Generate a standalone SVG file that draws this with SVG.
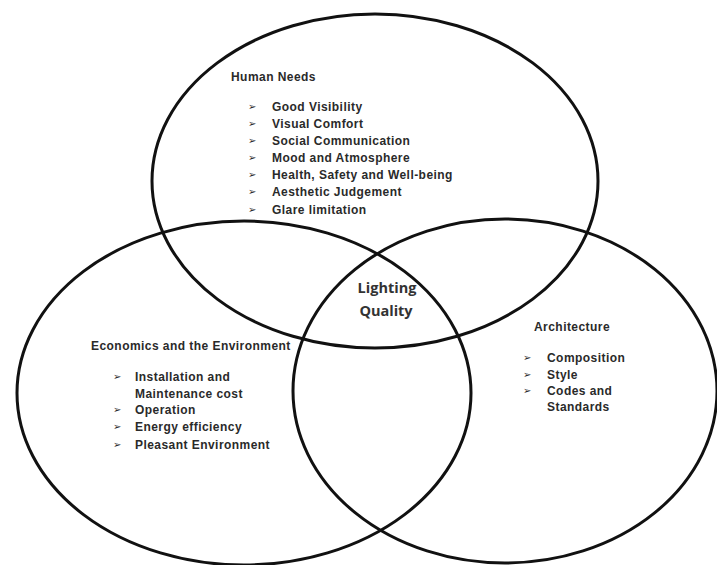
<svg xmlns="http://www.w3.org/2000/svg" width="717" height="565" viewBox="0 0 717 565">
<style>
.c{fill:none;stroke:#111;stroke-width:3}
.t{font-family:"Liberation Sans",Arial,sans-serif;font-size:12px;letter-spacing:0.45px;font-weight:bold;fill:#2a2a2a}
.b{font-family:"DejaVu Sans",sans-serif;font-size:10px;font-weight:bold;fill:#2a2a2a}
.q{font-family:"Open Sans","Liberation Sans",sans-serif;font-size:14.5px;font-weight:bold;fill:#333}
</style>
<rect width="717" height="565" fill="#fff"/>
<g id="human-needs">
<ellipse class="c" cx="375" cy="181" rx="223" ry="167" stroke-width="3.5"/>
<text class="t" x="231" y="81">Human Needs</text>
<g class="b"><text x="248" y="110">➢</text><text x="248" y="127">➢</text><text x="248" y="144">➢</text><text x="248" y="161">➢</text><text x="248" y="178">➢</text><text x="248" y="195">➢</text><text x="248" y="213">➢</text></g>
<text class="t" x="272" y="111">Good Visibility</text>
<text class="t" x="272" y="128">Visual Comfort</text>
<text class="t" x="272" y="145">Social Communication</text>
<text class="t" x="272" y="162">Mood and Atmosphere</text>
<text class="t" x="272" y="179">Health, Safety and Well-being</text>
<text class="t" x="272" y="196">Aesthetic Judgement</text>
<text class="t" x="272" y="214">Glare limitation</text>
</g>
<g id="economics">
<ellipse class="c" cx="244" cy="393" rx="227" ry="172"/>
<text class="t" x="91" y="350">Economics and the Environment</text>
<g class="b"><text x="113" y="380">➢</text><text x="113" y="413">➢</text><text x="113" y="430">➢</text><text x="113" y="448">➢</text></g>
<text class="t" x="135" y="381">Installation and</text>
<text class="t" x="135" y="398">Maintenance cost</text>
<text class="t" x="135" y="414">Operation</text>
<text class="t" x="135" y="431">Energy efficiency</text>
<text class="t" x="135" y="449">Pleasant Environment</text>
</g>
<g id="architecture">
<ellipse class="c" cx="505" cy="391" rx="212" ry="172"/>
<text class="t" x="534" y="331">Architecture</text>
<g class="b"><text x="523" y="361">➢</text><text x="523" y="378">➢</text><text x="523" y="394">➢</text></g>
<text class="t" x="547" y="362">Composition</text>
<text class="t" x="547" y="379">Style</text>
<text class="t" x="547" y="395">Codes and</text>
<text class="t" x="547" y="411">Standards</text>
</g>
<g id="lighting-quality">
<text class="q" x="387" y="293" text-anchor="middle">Lighting</text>
<text class="q" x="386" y="316" text-anchor="middle">Quality</text>
</g>
<g id="connectors"/>
</svg>
